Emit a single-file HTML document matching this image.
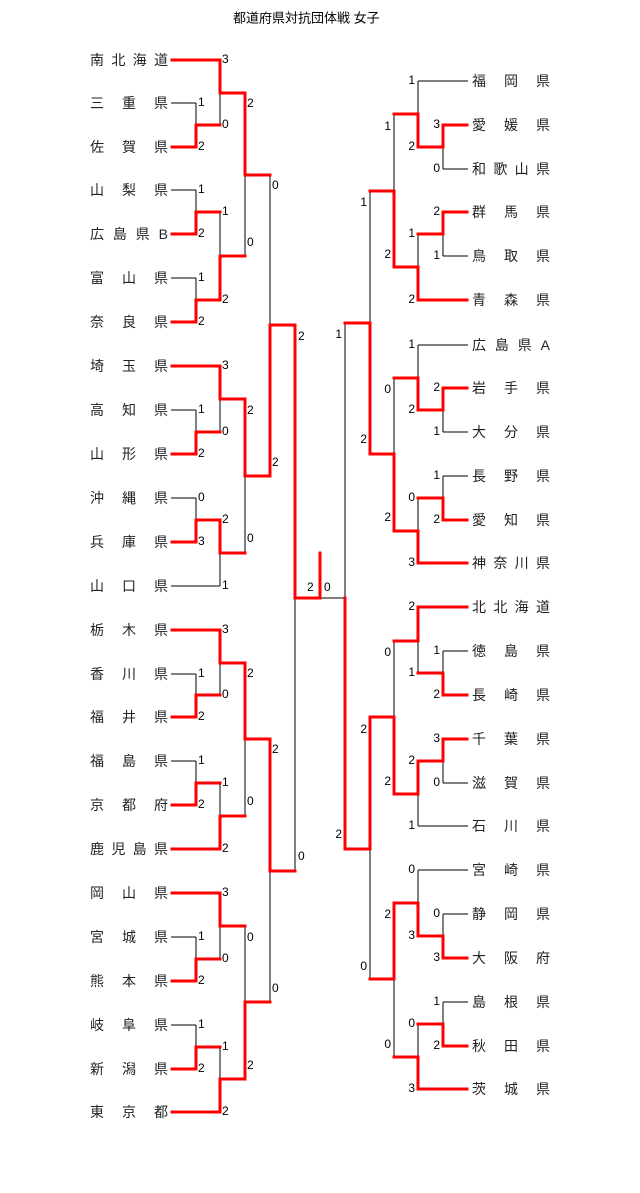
<!DOCTYPE html>
<html><head><meta charset="utf-8"><style>
body{margin:0;background:#fff;}
#w{position:relative;width:640px;height:1193px;overflow:hidden;font-family:"Liberation Sans","Noto Sans CJK JP",sans-serif;}
.n{position:absolute;width:78px;height:18px;display:flex;justify-content:space-between;align-items:center;font-size:14px;color:#222;line-height:18px;}
svg{position:absolute;left:0;top:0;}
svg text{font-family:"Liberation Sans",sans-serif;font-size:12px;fill:#000;dominant-baseline:middle;}
.r text{text-anchor:end;}
</style></head><body><div id="w">
<svg width="640" height="1193">
<text x="233" y="19" style="font-family:'Liberation Sans','Noto Sans CJK JP',sans-serif;font-size:13px">都道府県対抗団体戦 女子</text>
<g stroke="#000" stroke-width="1" fill="none">
<path d="M171 103H196M171 147H196M171 190H196M171 234H196M171 278H196M171 322H196M171 410H196M171 454H196M171 498H196M171 542H196M171 674H196M171 717H196M171 761H196M171 805H196M171 937H196M171 981H196M171 1025H196M171 1069H196"/>
<path d="M171 60H220M171 366H220M171 586H220M171 630H220M171 849H220M171 893H220M171 1112H220"/>
<path d="M196 103V147M196 190V234M196 278V322M196 410V454M196 498V542M196 674V717M196 761V805M196 937V981M196 1025V1069"/>
<path d="M196 125H220M196 212H220M196 300H220M196 432H220M196 520H220M196 695H220M196 783H220M196 959H220M196 1047H220"/>
<path d="M220 60V125M220 212V300M220 366V432M220 520V586M220 630V695M220 783V849M220 893V959M220 1047V1112"/>
<path d="M220 93H245M220 256H245M220 399H245M220 553H245M220 663H245M220 816H245M220 926H245M220 1079H245"/>
<path d="M245 93V256M245 399V553M245 663V816M245 926V1079M245 175H270M245 476H270M245 739H270M245 1002H270"/>
<path d="M270 175V476M270 739V1002M270 325H295M270 871H295M295 325V871M295 598H345"/>
<path d="M468 125H443M468 169H443M468 212H443M468 256H443M468 388H443M468 432H443M468 476H443M468 520H443M468 651H443M468 695H443M468 739H443M468 783H443M468 914H443M468 958H443M468 1002H443M468 1046H443"/>
<path d="M468 81H418M468 300H418M468 345H418M468 563H418M468 607H418M468 826H418M468 870H418M468 1089H418"/>
<path d="M443 125V169M443 212V256M443 388V432M443 476V520M443 651V695M443 739V783M443 914V958M443 1002V1046"/>
<path d="M443 147H418M443 234H418M443 410H418M443 498H418M443 673H418M443 761H418M443 936H418M443 1024H418"/>
<path d="M418 81V147M418 234V300M418 345V410M418 498V563M418 607V673M418 761V826M418 870V936M418 1024V1089"/>
<path d="M418 114H394M418 267H394M418 378H394M418 531H394M418 641H394M418 794H394M418 903H394M418 1057H394"/>
<path d="M394 114V267M394 378V531M394 641V794M394 903V1057M394 191H370M394 454H370M394 717H370M394 979H370"/>
<path d="M370 191V454M370 717V979M370 323H345M370 849H345M345 323V849"/>
</g>
<g stroke="#f00" stroke-width="3" fill="none" stroke-linejoin="miter" stroke-linecap="square">
<path d="M172 60H220V93H245V175H270"/>
<path d="M172 147H196V125H220"/>
<path d="M172 234H196V212H220"/>
<path d="M172 322H196V300H220V256H245"/>
<path d="M172 366H220V399H245V476H270V325H295V598H320V553"/>
<path d="M172 454H196V432H220"/>
<path d="M172 542H196V520H220V553H245"/>
<path d="M172 630H220V663H245V739H270V871H295"/>
<path d="M172 717H196V695H220"/>
<path d="M172 805H196V783H220"/>
<path d="M172 849H220V816H245"/>
<path d="M172 893H220V926H245"/>
<path d="M172 981H196V959H220"/>
<path d="M172 1069H196V1047H220"/>
<path d="M172 1112H220V1079H245V1002H270"/>
<path d="M467 125H443V147H418V114H394"/>
<path d="M467 212H443V234H418"/>
<path d="M467 300H418V267H394V191H370"/>
<path d="M467 388H443V410H418V378H394"/>
<path d="M467 520H443V498H418"/>
<path d="M467 563H418V531H394V454H370V323H345"/>
<path d="M467 607H418V641H394"/>
<path d="M467 695H443V673H418"/>
<path d="M467 739H443V761H418V794H394V717H370V849H345V598"/>
<path d="M467 958H443V936H418V903H394V979H370"/>
<path d="M467 1046H443V1024H418"/>
<path d="M467 1089H418V1057H394"/>
</g>
<g>
<text x="198" y="103">1</text><text x="198" y="147">2</text><text x="198" y="190">1</text><text x="198" y="234">2</text><text x="198" y="278">1</text><text x="198" y="322">2</text><text x="198" y="410">1</text><text x="198" y="454">2</text><text x="198" y="498">0</text><text x="198" y="542">3</text><text x="198" y="674">1</text><text x="198" y="717">2</text><text x="198" y="761">1</text><text x="198" y="805">2</text><text x="198" y="937">1</text><text x="198" y="981">2</text><text x="198" y="1025">1</text><text x="198" y="1069">2</text>
<text x="222" y="60">3</text><text x="222" y="125">0</text><text x="222" y="212">1</text><text x="222" y="300">2</text><text x="222" y="366">3</text><text x="222" y="432">0</text><text x="222" y="520">2</text><text x="222" y="586">1</text><text x="222" y="630">3</text><text x="222" y="695">0</text><text x="222" y="783">1</text><text x="222" y="849">2</text><text x="222" y="893">3</text><text x="222" y="959">0</text><text x="222" y="1047">1</text><text x="222" y="1112">2</text>
<text x="247" y="104">2</text><text x="247" y="243">0</text><text x="247" y="411">2</text><text x="247" y="539">0</text><text x="247" y="674">2</text><text x="247" y="802">0</text><text x="247" y="938">0</text><text x="247" y="1066">2</text>
<text x="272" y="186">0</text><text x="272" y="463">2</text><text x="272" y="750">2</text><text x="272" y="989">0</text>
<text x="298" y="337">2</text><text x="298" y="857">0</text>
<text x="307" y="588">2</text><text x="324" y="588">0</text>
</g>
<g class="r">
<text x="440" y="125">3</text><text x="440" y="169">0</text><text x="440" y="212">2</text><text x="440" y="256">1</text><text x="440" y="388">2</text><text x="440" y="432">1</text><text x="440" y="476">1</text><text x="440" y="520">2</text><text x="440" y="651">1</text><text x="440" y="695">2</text><text x="440" y="739">3</text><text x="440" y="783">0</text><text x="440" y="914">0</text><text x="440" y="958">3</text><text x="440" y="1002">1</text><text x="440" y="1046">2</text>
<text x="415" y="81">1</text><text x="415" y="147">2</text><text x="415" y="234">1</text><text x="415" y="300">2</text><text x="415" y="345">1</text><text x="415" y="410">2</text><text x="415" y="498">0</text><text x="415" y="563">3</text><text x="415" y="607">2</text><text x="415" y="673">1</text><text x="415" y="761">2</text><text x="415" y="826">1</text><text x="415" y="870">0</text><text x="415" y="936">3</text><text x="415" y="1024">0</text><text x="415" y="1089">3</text>
<text x="391" y="127">1</text><text x="391" y="255">2</text><text x="391" y="390">0</text><text x="391" y="518">2</text><text x="391" y="653">0</text><text x="391" y="782">2</text><text x="391" y="915">2</text><text x="391" y="1045">0</text>
<text x="367" y="203">1</text><text x="367" y="440">2</text><text x="367" y="730">2</text><text x="367" y="967">0</text>
<text x="342" y="335">1</text><text x="342" y="835">2</text>
</g>
</svg>
<div class="n" style="left:90px;top:51px"><span>南</span><span>北</span><span>海</span><span>道</span></div>
<div class="n" style="left:90px;top:94px"><span>三</span><span>重</span><span>県</span></div>
<div class="n" style="left:90px;top:138px"><span>佐</span><span>賀</span><span>県</span></div>
<div class="n" style="left:90px;top:181px"><span>山</span><span>梨</span><span>県</span></div>
<div class="n" style="left:90px;top:225px"><span>広</span><span>島</span><span>県</span><span>B</span></div>
<div class="n" style="left:90px;top:269px"><span>富</span><span>山</span><span>県</span></div>
<div class="n" style="left:90px;top:313px"><span>奈</span><span>良</span><span>県</span></div>
<div class="n" style="left:90px;top:357px"><span>埼</span><span>玉</span><span>県</span></div>
<div class="n" style="left:90px;top:401px"><span>高</span><span>知</span><span>県</span></div>
<div class="n" style="left:90px;top:445px"><span>山</span><span>形</span><span>県</span></div>
<div class="n" style="left:90px;top:489px"><span>沖</span><span>縄</span><span>県</span></div>
<div class="n" style="left:90px;top:533px"><span>兵</span><span>庫</span><span>県</span></div>
<div class="n" style="left:90px;top:577px"><span>山</span><span>口</span><span>県</span></div>
<div class="n" style="left:90px;top:621px"><span>栃</span><span>木</span><span>県</span></div>
<div class="n" style="left:90px;top:665px"><span>香</span><span>川</span><span>県</span></div>
<div class="n" style="left:90px;top:708px"><span>福</span><span>井</span><span>県</span></div>
<div class="n" style="left:90px;top:752px"><span>福</span><span>島</span><span>県</span></div>
<div class="n" style="left:90px;top:796px"><span>京</span><span>都</span><span>府</span></div>
<div class="n" style="left:90px;top:840px"><span>鹿</span><span>児</span><span>島</span><span>県</span></div>
<div class="n" style="left:90px;top:884px"><span>岡</span><span>山</span><span>県</span></div>
<div class="n" style="left:90px;top:928px"><span>宮</span><span>城</span><span>県</span></div>
<div class="n" style="left:90px;top:972px"><span>熊</span><span>本</span><span>県</span></div>
<div class="n" style="left:90px;top:1016px"><span>岐</span><span>阜</span><span>県</span></div>
<div class="n" style="left:90px;top:1060px"><span>新</span><span>潟</span><span>県</span></div>
<div class="n" style="left:90px;top:1103px"><span>東</span><span>京</span><span>都</span></div>
<div class="n" style="left:472px;top:72px"><span>福</span><span>岡</span><span>県</span></div>
<div class="n" style="left:472px;top:116px"><span>愛</span><span>媛</span><span>県</span></div>
<div class="n" style="left:472px;top:160px"><span>和</span><span>歌</span><span>山</span><span>県</span></div>
<div class="n" style="left:472px;top:203px"><span>群</span><span>馬</span><span>県</span></div>
<div class="n" style="left:472px;top:247px"><span>鳥</span><span>取</span><span>県</span></div>
<div class="n" style="left:472px;top:291px"><span>青</span><span>森</span><span>県</span></div>
<div class="n" style="left:472px;top:336px"><span>広</span><span>島</span><span>県</span><span>A</span></div>
<div class="n" style="left:472px;top:379px"><span>岩</span><span>手</span><span>県</span></div>
<div class="n" style="left:472px;top:423px"><span>大</span><span>分</span><span>県</span></div>
<div class="n" style="left:472px;top:467px"><span>長</span><span>野</span><span>県</span></div>
<div class="n" style="left:472px;top:511px"><span>愛</span><span>知</span><span>県</span></div>
<div class="n" style="left:472px;top:554px"><span>神</span><span>奈</span><span>川</span><span>県</span></div>
<div class="n" style="left:472px;top:598px"><span>北</span><span>北</span><span>海</span><span>道</span></div>
<div class="n" style="left:472px;top:642px"><span>徳</span><span>島</span><span>県</span></div>
<div class="n" style="left:472px;top:686px"><span>長</span><span>崎</span><span>県</span></div>
<div class="n" style="left:472px;top:730px"><span>千</span><span>葉</span><span>県</span></div>
<div class="n" style="left:472px;top:774px"><span>滋</span><span>賀</span><span>県</span></div>
<div class="n" style="left:472px;top:817px"><span>石</span><span>川</span><span>県</span></div>
<div class="n" style="left:472px;top:861px"><span>宮</span><span>崎</span><span>県</span></div>
<div class="n" style="left:472px;top:905px"><span>静</span><span>岡</span><span>県</span></div>
<div class="n" style="left:472px;top:949px"><span>大</span><span>阪</span><span>府</span></div>
<div class="n" style="left:472px;top:993px"><span>島</span><span>根</span><span>県</span></div>
<div class="n" style="left:472px;top:1037px"><span>秋</span><span>田</span><span>県</span></div>
<div class="n" style="left:472px;top:1080px"><span>茨</span><span>城</span><span>県</span></div>
</div></body></html>
